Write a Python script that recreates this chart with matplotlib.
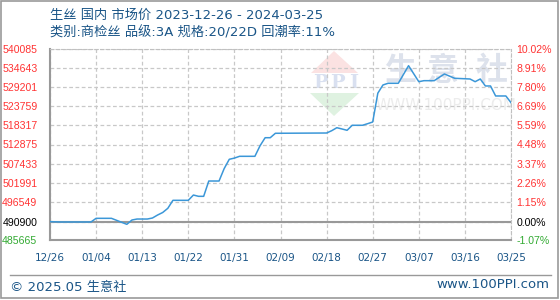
import matplotlib
matplotlib.use("Agg")
import matplotlib.pyplot as plt
from matplotlib.patches import Rectangle, Polygon
import pandas as pd

plt.rcParams['font.family'] = ['Noto Sans CJK SC', 'DejaVu Sans']

# 价格数据
dates = ['2023-12-26', '2023-12-28', '2024-01-03', '2024-01-04', '2024-01-07', '2024-01-08',
         '2024-01-09', '2024-01-10', '2024-01-11', '2024-01-12', '2024-01-14', '2024-01-15',
         '2024-01-16', '2024-01-17', '2024-01-18', '2024-01-19', '2024-01-22', '2024-01-23',
         '2024-01-24', '2024-01-25', '2024-01-26', '2024-01-28', '2024-01-29', '2024-01-30',
         '2024-01-31', '2024-02-01', '2024-02-04', '2024-02-05', '2024-02-06', '2024-02-07',
         '2024-02-08', '2024-02-18', '2024-02-19', '2024-02-20', '2024-02-21', '2024-02-22',
         '2024-02-23', '2024-02-25', '2024-02-26', '2024-02-27', '2024-02-28', '2024-02-29',
         '2024-03-01', '2024-03-03', '2024-03-05', '2024-03-07', '2024-03-08', '2024-03-10',
         '2024-03-12', '2024-03-14', '2024-03-17', '2024-03-18', '2024-03-19', '2024-03-20',
         '2024-03-21', '2024-03-22', '2024-03-24', '2024-03-25']
prices = [490900, 490800, 490800, 491840, 491840, 491270,
          490700, 490130, 491360, 491640, 491640, 491930,
          492780, 493500, 494690, 496970, 496970, 498480,
          498110, 498110, 502470, 502470, 506000, 508660,
          509000, 509510, 509510, 512500, 514810, 514810,
          516070, 516150, 516810, 517660, 517300, 516920,
          518350, 518350, 518800, 519290, 527500, 529830,
          530320, 530320, 535330, 530770, 531060, 531060,
          532970, 531740, 531540, 530770, 531540, 529550,
          529550, 526700, 526700, 524790]

base = 490900
left_ticks = [540085, 534643, 529201, 523759, 518317, 512875, 507433, 501991, 496549, 490900, 485665]
right_labels = ['10.02%', '8.91%', '7.80%', '6.69%', '5.59%', '4.48%', '3.37%', '2.26%', '1.15%', '0.00%', '-1.07%']
x_ticks = ['2023-12-26', '2024-01-04', '2024-01-13', '2024-01-22', '2024-01-31', '2024-02-09',
           '2024-02-18', '2024-02-27', '2024-03-07', '2024-03-16', '2024-03-25']

W, H = 560, 300
fig = plt.figure(figsize=(W / 100, H / 100), dpi=100)
ax = fig.add_axes([50 / W, 1 - 240 / H, 461 / W, 191 / H])

x = pd.to_datetime(dates)
xt = pd.to_datetime(x_ticks)


def px(xp, yp):
    return (xp / W, 1 - yp / H)


# 水印
fig.patches.append(Polygon([px(334, 51), px(311, 73), px(358, 73)], closed=True,
                           transform=fig.transFigure, facecolor='#fbe2e2', edgecolor='none', zorder=0.5))
fig.patches.append(Polygon([px(310, 93), px(359, 93), px(334, 116)], closed=True,
                           transform=fig.transFigure, facecolor='#dff2e1', edgecolor='none', zorder=0.5))
for cx, ch in zip([320, 337, 354], ['P', 'P', 'I']):
    fig.text(*px(cx, 83), ch, fontsize=14, fontweight='bold', color='#d9e0f0', ha='center', va='center',
             family='DejaVu Serif', zorder=0.6)
for cx, ch in zip([400, 443, 492], ['生', '意', '社']):
    fig.text(*px(cx, 71), ch, fontsize=23, fontweight='bold', color='#dde2ec', ha='center', va='center', zorder=0.6)
fig.text(*px(446, 105), 'WWW.100PPI.COM', fontsize=11, color='#ececec', ha='center', va='center',
         family='DejaVu Sans', zorder=0.6)

ax.set_facecolor('none')
ax.set_zorder(2)
ax.plot(x, prices, color='#3b97d8', lw=1.1, zorder=3)
ax.axhline(base, color='#999999', lw=1.5, zorder=2)

ax.set_xlim(xt[0], xt[-1])
ax.set_ylim(left_ticks[-1], left_ticks[0])
ax.set_xticks(xt)
ax.set_xticklabels([d.strftime('%m/%d') for d in xt], fontsize=7.5, color='#1a5587', family='DejaVu Sans')
ax.set_yticks(left_ticks)
ax.set_yticklabels([str(v) for v in left_ticks], fontsize=7.6, family='Liberation Sans')
for lab, v in zip(ax.get_yticklabels(), left_ticks):
    lab.set_color('#ff3333' if v > base else ('#000000' if v == base else '#33aa33'))
ax.tick_params(axis='both', length=0)
ax.tick_params(axis='y', pad=9)
ax.tick_params(axis='x', pad=9)
ax.grid(True, color='#c8c8c8', ls=(0, (3, 2)), lw=0.9)

for s in ['top', 'right']:
    ax.spines[s].set_color('#c0c0c0')
    ax.spines[s].set_linestyle((0, (3, 2)))
for s in ['left', 'bottom']:
    ax.spines[s].set_color('#999999')
    ax.spines[s].set_linewidth(1.5)

ax2 = ax.twinx()
ax2.set_ylim(ax.get_ylim())
ax2.set_yticks(left_ticks)
ax2.set_yticklabels(right_labels, fontsize=7.6, family='Liberation Sans')
for lab, v in zip(ax2.get_yticklabels(), left_ticks):
    lab.set_color('#ff3333' if v > base else ('#000000' if v == base else '#33aa33'))
ax2.tick_params(axis='y', length=0, pad=4)
for s in ax2.spines.values():
    s.set_visible(False)

# 标题
tc = '#1a5587'
fig.text(*px(50, 15), '生丝 国内 市场价 2023-12-26 - 2024-03-25', fontsize=9.5, color=tc, va='center',
         family=['DejaVu Sans', 'Noto Sans CJK SC'])
fig.text(*px(50, 33), '类别:商检丝 品级:3A 规格:20/22D 回潮率:11%', fontsize=9.5, color=tc, va='center',
         family=['DejaVu Sans', 'Noto Sans CJK SC'])

# 底部
fig.add_artist(plt.Line2D([10 / W, 551 / W], [1 - 275 / H, 1 - 275 / H], transform=fig.transFigure,
                          color='#999999', lw=1))
fig.text(*px(10, 287), '© 2025.05 生意社', fontsize=9.5, color=tc, va='center',
         family=['DejaVu Sans', 'Noto Sans CJK SC'])
fig.text(*px(549, 285), 'www.100PPI.com', fontsize=9.5, color=tc, va='center', ha='right', family='DejaVu Sans')
fig.patches.append(Rectangle((0.5 / W, 1 - 298 / H), 557 / W, 297.5 / H, transform=fig.transFigure,
                             fill=False, edgecolor='#999999', lw=1.2))

fig.savefig('out.png', dpi=100)
